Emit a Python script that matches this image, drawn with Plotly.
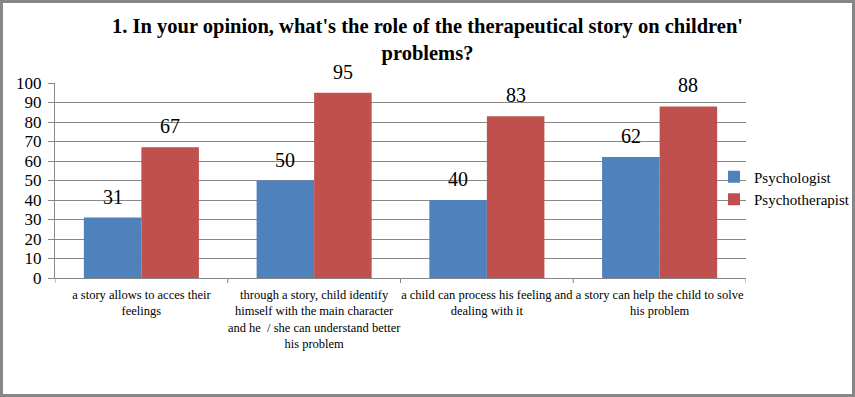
import plotly.graph_objects as go

categories = [
    "a story allows to acces their<br>feelings",
    "through a story, child identify<br>himself with the main character<br>and he  / she can understand better<br>his problem",
    "a child can process his feeling and<br>dealing with it",
    "a story can help the child to solve<br>his problem",
]
series_names = ["Psychologist", "Psychotherapist"]
psychologist = [31, 50, 40, 62]
psychotherapist = [67, 95, 83, 88]
y_ticks = list(range(0, 101, 10))

W, H = 855, 397
ml, mr, mt, mb = 55, 109, 83, 119
pw, ph = W - ml - mr, H - mt - mb

font = "Liberation Serif, Times New Roman, serif"
colors = ["#4F81BD", "#C0504D"]
bargap = 0.334
x = list(range(len(categories)))

fig = go.Figure()
for k, (name, vals) in enumerate(zip(series_names, [psychologist, psychotherapist])):
    fig.add_trace(go.Bar(x=x, y=vals, name=name, marker_color=colors[k], marker_line_width=0,
                         hoverinfo="skip"))
    off = (k - 0.5) * (1 - bargap) / 2
    for i, v in zip(x, vals):
        fig.add_annotation(x=i + off, y=v, xref="x", yref="y", text=str(v), showarrow=False,
                           yanchor="middle", yshift=21,
                           font=dict(size=20, family=font, color="#000"))

fig.update_layout(
    width=W, height=H,
    margin=dict(l=ml, r=mr, t=mt, b=mb, autoexpand=False),
    paper_bgcolor="white", plot_bgcolor="white",
    barmode="group", bargap=bargap, bargroupgap=0,
    font=dict(family=font, color="#000"),
    title=dict(text="<b>1. In your opinion, what's the role of the therapeutical story on children'<br>problems?</b>",
               x=0.5, xanchor="center", xref="container",
               yref="container", y=1 - 33 / H, yanchor="top",
               font=dict(size=20.5, family=font, color="#000")),
    legend=dict(x=(714 - ml) / pw, xanchor="left", y=(278 - 188) / ph, yanchor="middle",
                font=dict(size=15, family=font), bgcolor="rgba(0,0,0,0)",
                tracegroupgap=0, itemwidth=30),
    showlegend=True,
    shapes=[dict(type="rect", xref="paper", yref="paper",
                 x0=-(ml - 1.5) / pw, x1=1 + (mr - 1.5) / pw,
                 y0=-(mb - 1.5) / ph, y1=1 + (mt - 1.5) / ph,
                 line=dict(color="#878787", width=3), layer="below")],
)
fig.update_xaxes(
    tickvals=x, ticktext=categories, range=[-0.5, len(categories) - 0.5],
    tickfont=dict(size=12.5, family=font), showline=True, linecolor="#878787", linewidth=1,
    showgrid=False, ticks="", tickangle=0, automargin=False, ticklabelstandoff=5,
)
for i in range(len(categories) + 1):
    fig.add_shape(type="line", xref="x", yref="paper", x0=i - 0.5, x1=i - 0.5,
                  y0=0, y1=-5 / ph, line=dict(color="#878787", width=1))
fig.update_yaxes(
    range=[0, 100], tickvals=y_ticks, tickfont=dict(size=17, family=font),
    showgrid=True, gridcolor="#878787", gridwidth=1, showline=True, linecolor="#878787",
    linewidth=1, ticks="outside", ticklen=6, tickcolor="#878787", zeroline=False,
    automargin=False, ticklabelstandoff=3,
)
fig.write_html("out.html", config={"displayModeBar": False},
               post_script="document.body.style.margin='0';document.body.style.overflow='hidden';")
